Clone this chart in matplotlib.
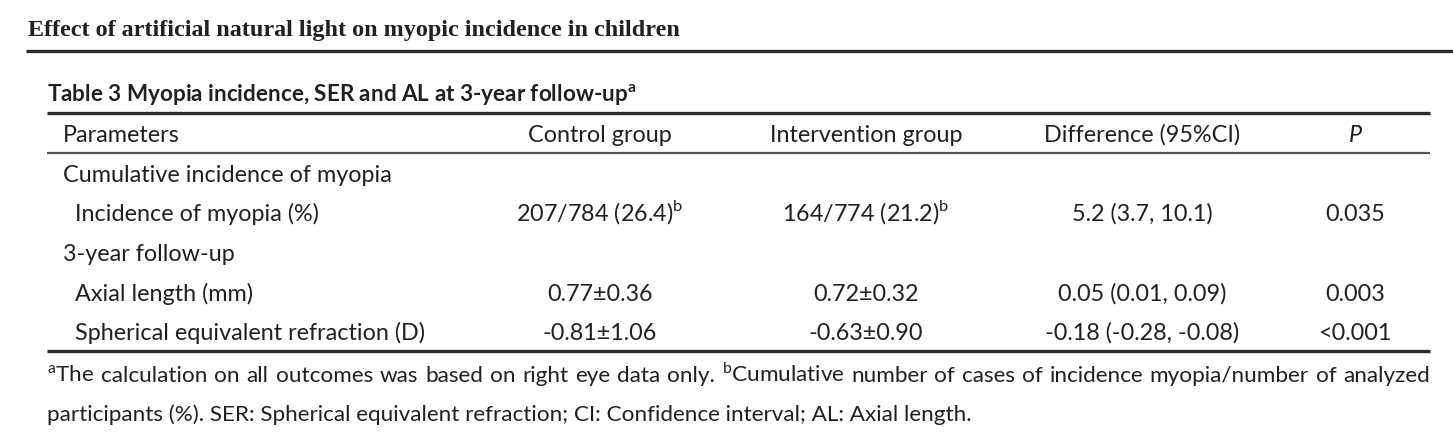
import matplotlib
matplotlib.use("Agg")
import matplotlib.pyplot as plt

# ------------------------------------------------------------
# Table content
# ------------------------------------------------------------
page_title = "Effect of artificial natural light on myopic incidence in children"
table_title = r"Table 3 Myopia incidence, SER and AL at 3-year follow-up$^{\mathbf{a}}$"

col_headers = ["Parameters", "Control group", "Intervention group",
               "Difference (95%CI)", "P"]

row_labels = ["Cumulative incidence of myopia",
              "Incidence of myopia (%)",
              "3-year follow-up",
              "Axial length (mm)",
              "Spherical equivalent refraction (D)"]
row_indent = [0, 1, 0, 1, 1]

control_vals = ["", r"207/784 (26.4)$^{\mathrm{b}}$", "", "0.77±0.36", "-0.81±1.06"]
intervention_vals = ["", r"164/774 (21.2)$^{\mathrm{b}}$", "", "0.72±0.32", "-0.63±0.90"]
difference_vals = ["", "5.2 (3.7, 10.1)", "", "0.05 (0.01, 0.09)", "-0.18 (-0.28, -0.08)"]
p_vals = ["", "0.035", "", "0.003", "<0.001"]

footnotes = [r"$^{\mathrm{a}}$The calculation on all outcomes was based on right eye data only. "
             r"$^{\mathrm{b}}$Cumulative number of cases of incidence myopia/number of analyzed",
             "participants (%). SER: Spherical equivalent refraction; CI: Confidence interval; AL: Axial length."]

# ------------------------------------------------------------
# Layout (pixel coordinates, y grows downward)
# ------------------------------------------------------------
W, H = 1453, 441
TXT = "#231f20"
BODY = "Lato"
FS = 16.8
FS_NOTE = 16.2

plt.rcParams["mathtext.fontset"] = "custom"
plt.rcParams["mathtext.rm"] = BODY
plt.rcParams["mathtext.bf"] = BODY + ":bold"

fig = plt.figure(figsize=(W / 100, H / 100), dpi=100)
ax = fig.add_axes([0, 0, 1, 1])
ax.set_xlim(0, W)
ax.set_ylim(H, 0)
ax.axis("off")

# page header
ax.text(28, 36, page_title, family="Liberation Serif", weight="bold",
        fontsize=17.4, color=TXT, va="baseline")
ax.plot([26, W], [51, 51], color="#2b2b2b", lw=2.4, solid_capstyle="butt")

# table caption
ax.text(47, 101, table_title, family=BODY, weight="bold", fontsize=16.2,
        color=TXT, va="baseline")

# rules
ax.plot([47, 1430], [113, 113], color="#2b2b2b", lw=2.4, solid_capstyle="butt")
ax.plot([47, 1430], [153, 153], color="#555555", lw=1.6, solid_capstyle="butt")
ax.plot([47, 1430], [351, 351], color="#2b2b2b", lw=2.4, solid_capstyle="butt")

col_x = [63, 600, 866, 1142, 1355]
header_base = 142
row_base = [182, 221, 261, 301, 340]

ax.text(col_x[0], header_base, col_headers[0], family=BODY, fontsize=FS,
        color=TXT, va="baseline", ha="left")
for i in range(1, 5):
    ax.text(col_x[i], header_base, col_headers[i], family=BODY, fontsize=FS,
            color=TXT, va="baseline", ha="center",
            style="italic" if col_headers[i] == "P" else "normal")

for r, label in enumerate(row_labels):
    y = row_base[r]
    ax.text(col_x[0] + 12 * row_indent[r], y, label, family=BODY, fontsize=FS,
            color=TXT, va="baseline", ha="left")
    for i, vals in enumerate([control_vals, intervention_vals,
                              difference_vals, p_vals], start=1):
        if vals[r]:
            ax.text(col_x[i], y, vals[r], family=BODY, fontsize=FS,
                    color=TXT, va="baseline", ha="center")


def justified_line(text, x0, x1, y):
    """ spread the words of one line evenly between x0 and x1 """
    renderer = fig.canvas.get_renderer()
    words = text.split(" ")
    items = [ax.text(0, y, w, family=BODY, fontsize=FS_NOTE, color=TXT,
                     va="baseline") for w in words]
    widths = [t.get_window_extent(renderer).width for t in items]
    gap = (x1 - x0 - sum(widths)) / (len(words) - 1)
    x = x0
    for t, w in zip(items, widths):
        t.set_x(x)
        x += w + gap


# footnotes (first line justified like the source, last line ragged)
justified_line(footnotes[0], 47, 1430, 382)
ax.text(47, 421, footnotes[1], family=BODY, fontsize=FS_NOTE, color=TXT,
        va="baseline")

fig.savefig("out.png", dpi=100, facecolor="white")
